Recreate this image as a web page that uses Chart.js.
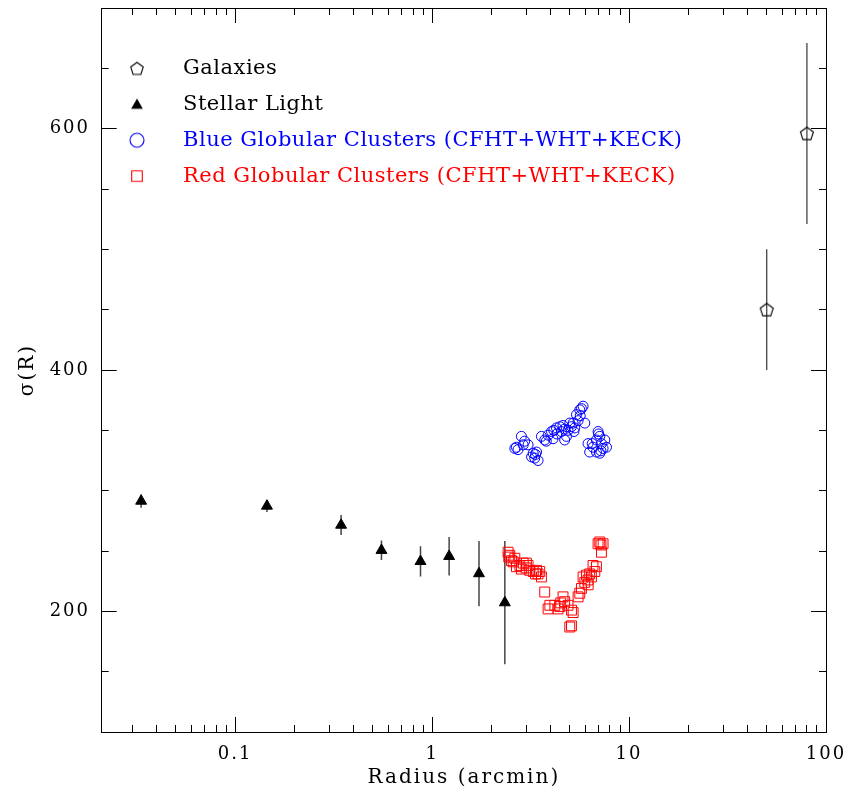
<!DOCTYPE html>
<html><head><meta charset="utf-8">
<script src="https://cdn.jsdelivr.net/npm/chart.js@4.4.1/dist/chart.umd.min.js"></script>
<style>html,body{margin:0;padding:0;background:#fff}canvas{display:block}</style>
</head><body>
<canvas id="c" width="849" height="794"></canvas>
<script>
// ---------------- data ----------------
const GAL_R = [50, 80];
const GAL_SIGMA = [450, 596];
const GAL_ERR = [50, 75];

const STELLAR_R = [0.0333, 0.145, 0.345, 0.553, 0.873, 1.22, 1.73, 2.34];
const STELLAR_SIGMA = [291.4, 287.3, 271.5, 250.6, 241.4, 245.6, 231.3, 207.2];
const STELLAR_ERR = [5.5, 5, 8.3, 8, 12.5, 16, 27, 51];

const BLUE_R = [2.68,2.84,2.90,2.73,2.63,3.07,3.26,3.32,3.20,3.45,3.39,3.59,3.73,3.88,4.04,4.11,4.28,4.45,4.54,4.62,4.81,4.90,5.10,5.20,5.30,5.41,5.62,5.51,5.73,5.84,5.96,6.19,6.31,6.56,6.83,6.96,7.10,7.24,7.38,7.53,7.68,6.83,7.10,
                4.30,4.70,5.00,5.25,4.15,3.80,2.95,3.35,5.65,6.50,7.00,7.20,4.71];
const BLUE_SIGMA = [336,345,338,334,335,338,331,327,328,325,332,345,342,346,349,343,352,353,349,354,345,350,353,356,352,363,367,358,368,370,356,339,332,336,342,349,345,339,335,342,336,332,331,
                    347,351,356,349,350,341,341,330,362,339,347,333,342];

const RED_R = [2.43,2.48,2.53,2.63,2.58,2.68,2.79,2.84,2.90,3.01,3.07,3.13,3.26,3.39,3.45,3.52,3.59,3.73,3.88,3.96,4.20,4.36,4.45,4.62,4.71,4.90,5.10,5.20,5.00,5.10,5.51,5.62,5.73,5.84,5.96,6.08,6.19,6.31,6.44,6.56,6.70,6.83,6.96,7.10,7.24,7.38,
               2.45,3.00,3.35,6.20,4.50,7.20];
const RED_SIGMA = [249,246.5,242,244,241,237,238,235,240,240,238,234,233,234,231,233,228.5,216,202,205,205,202,204,212,208,205,201,199,187,188,212,215,219,228.5,224,230,226,231,228.5,238,233,237,256,257.5,249,256,
                   245,236,231,222,207,255];

const SERIES_LABELS = ['Galaxies', 'Stellar Light', 'Blue Globular Clusters (CFHT+WHT+KECK)', 'Red Globular Clusters (CFHT+WHT+KECK)'];
const X_TITLE = 'Radius (arcmin)';
const Y_TITLE = 'σ(R)';

const X_MIN = 0.021, X_MAX = 100;
const Y_MIN = 100, Y_MAX = 700;
const X_MAJOR = [0.1, 1, 10, 100];
const X_MAJOR_LABELS = ['0.1', '1', '10', '100'];
const X_MINOR = [0.03,0.04,0.05,0.06,0.07,0.08,0.09, 0.2,0.3,0.4,0.5,0.6,0.7,0.8,0.9, 2,3,4,5,6,7,8,9, 20,30,40,50,60,70,80,90];
const Y_MAJOR = [200, 400, 600];
const Y_MAJOR_LABELS = ['200', '400', '600'];
const Y_MINOR = [150, 250, 300, 350, 450, 500, 550, 650];

// ---------------- styling helpers ----------------
const FONT = "'DejaVu Serif', 'Liberation Serif', serif";
const BLUE = '#0000ff', RED = '#ff0000', BLACK = '#000000';
const AXIS_LETTER_SPACING = '2px';
const LEGEND_LETTER_SPACING = '0.5px';

function makeIcon(kind, size, color, r, lw) {
  const c = document.createElement('canvas');
  c.width = size; c.height = size;
  const g = c.getContext('2d');
  const m = size / 2;
  g.strokeStyle = color; g.fillStyle = color; g.lineWidth = lw;
  g.beginPath();
  if (kind === 'pentagon') {
    for (let k = 0; k < 5; k++) {
      const a = -Math.PI / 2 + k * 2 * Math.PI / 5;
      const px = m + r * Math.cos(a), py = m + 0.6 + r * Math.sin(a);
      k ? g.lineTo(px, py) : g.moveTo(px, py);
    }
    g.closePath(); g.stroke();
  } else if (kind === 'triangle') {
    for (let k = 0; k < 3; k++) {
      const a = -Math.PI / 2 + k * 2 * Math.PI / 3;
      const px = m + r * Math.cos(a), py = m + 1 + r * Math.sin(a);
      k ? g.lineTo(px, py) : g.moveTo(px, py);
    }
    g.closePath(); g.fill();
  } else if (kind === 'circle') {
    g.arc(m, m, r, 0, 2 * Math.PI); g.stroke();
  } else if (kind === 'square') {
    g.rect(m - r, m - r, 2 * r, 2 * r); g.stroke();
  }
  return c;
}
const PENTAGON = makeIcon('pentagon', 18, BLACK, 6.8, 1.1);
const LEGEND_ICONS = [
  makeIcon('pentagon', 18, BLACK, 6.6, 1.1),
  makeIcon('triangle', 18, BLACK, 6.8, 1),
  makeIcon('circle', 18, BLUE, 7, 1.1),
  makeIcon('square', 18, RED, 5.3, 1.1)
];
const LEGEND_COLORS = [BLACK, BLACK, BLUE, RED];

const pts = (xs, ys) => xs.map((x, i) => ({x, y: ys[i]}));
const errSegments = (xs, ys, es) => {
  const out = [];
  xs.forEach((x, i) => { out.push({x, y: ys[i] - es[i]}, {x, y: ys[i] + es[i]}, {x, y: null}); });
  return out;
};

const setTicks = values => scale => { scale.ticks = values.map(v => ({value: v})); };
const labelFrom = (values, labels) => (val) => { const i = values.findIndex(v => Math.abs(v - val) < 1e-9 * Math.max(1, v)); return i >= 0 ? labels[i] : ''; };

function axis(type, position, min, max, values, tickLen, opts = {}) {
  return Object.assign({
    type, position, min, max,
    afterBuildTicks: setTicks(values),
    grid: { display: true, drawOnChartArea: false, drawTicks: true, tickLength: tickLen, tickColor: BLACK, tickWidth: 1 },
    border: { display: true, color: BLACK, width: 1 },
    ticks: { display: false, autoSkip: false }
  }, opts);
}
const zeroH = s => { s.height = 0; s.paddingLeft = 0; s.paddingRight = 0; };
const zeroW = s => { s.width = 0; s.paddingTop = 0; s.paddingBottom = 0; };

// places the legend inside the plot frame and sets text tracking (glyph spacing)
const legendPlacer = {
  id: 'legendPlacer',
  beforeDraw(chart) {
    chart.ctx.letterSpacing = AXIS_LETTER_SPACING;
    const lg = chart.legend;
    if (!lg) return;
    if (!lg._trackingWrapped) {
      const orig = lg.draw;
      lg.draw = function () {
        const c = this.ctx, prev = c.letterSpacing;
        c.letterSpacing = LEGEND_LETTER_SPACING;
        orig.apply(this, arguments);
        c.letterSpacing = prev;
      };
      lg._trackingWrapped = true;
    }
    const ca = chart.chartArea;
    lg.left = ca.left - 15.1;
    lg.right = lg.left + 700;
    lg.top = ca.top + 35;
    lg.bottom = lg.top + 400;
  },
  afterDraw(chart) { chart.ctx.letterSpacing = '0px'; }
};

new Chart(document.getElementById('c'), {
  type: 'scatter',
  data: {
    datasets: [
      { label: SERIES_LABELS[0], data: pts(GAL_R, GAL_SIGMA), pointStyle: PENTAGON, pointRadius: 7, order: 0 },
      { label: SERIES_LABELS[1], data: pts(STELLAR_R, STELLAR_SIGMA), pointStyle: 'triangle', pointRadius: 6.3,
        backgroundColor: BLACK, borderColor: BLACK, borderWidth: 1, order: 0 },
      { label: SERIES_LABELS[2], data: pts(BLUE_R, BLUE_SIGMA), pointStyle: 'circle', pointRadius: 5,
        backgroundColor: 'rgba(0,0,0,0)', borderColor: BLUE, borderWidth: 1, order: 0 },
      { label: SERIES_LABELS[3], data: pts(RED_R, RED_SIGMA), pointStyle: 'rect', pointRadius: 7,
        backgroundColor: 'rgba(0,0,0,0)', borderColor: RED, borderWidth: 1, order: 0 },
      { label: '', data: errSegments(GAL_R, GAL_SIGMA, GAL_ERR), showLine: true, spanGaps: false, pointRadius: 0,
        borderColor: '#444444', borderWidth: 1.3, order: 1 },
      { label: '', data: errSegments(STELLAR_R, STELLAR_SIGMA, STELLAR_ERR), showLine: true, spanGaps: false, pointRadius: 0,
        borderColor: '#444444', borderWidth: 1.5, order: 1 }
    ]
  },
  options: {
    responsive: false,
    animation: false,
    events: [],
    layout: { padding: { left: 0, top: 8, right: 23, bottom: 0 } },
    scales: {
      x: axis('logarithmic', 'bottom', X_MIN, X_MAX, X_MAJOR, -15, {
        weight: 1,
        ticks: { display: true, autoSkip: false, maxRotation: 0, padding: 26.5, color: BLACK,
                 font: { family: FONT, size: 18 }, callback: labelFrom(X_MAJOR, X_MAJOR_LABELS) },
        title: { display: true, text: X_TITLE, color: BLACK, font: { family: FONT, size: 20 }, padding: { top: 0, bottom: 4 } },
        afterFit: s => { s.height = 62; s.paddingLeft = 0; s.paddingRight = 0; }
      }),
      xm: axis('logarithmic', 'bottom', X_MIN, X_MAX, X_MINOR, -7, { weight: 0, afterFit: zeroH }),
      xt: axis('logarithmic', 'top', X_MIN, X_MAX, X_MAJOR, -15, { afterFit: zeroH }),
      xtm: axis('logarithmic', 'top', X_MIN, X_MAX, X_MINOR, -7, { afterFit: zeroH }),
      y: axis('linear', 'left', Y_MIN, Y_MAX, Y_MAJOR, -15, {
        weight: 1,
        ticks: { display: true, autoSkip: false, padding: 26.7, color: BLACK,
                 font: { family: FONT, size: 18 }, callback: labelFrom(Y_MAJOR, Y_MAJOR_LABELS) },
        title: { display: true, text: Y_TITLE, color: BLACK, font: { family: FONT, size: 20 }, padding: { top: 16, bottom: 0 } },
        afterFit: s => { s.width = 101.7; s.paddingTop = 0; s.paddingBottom = 0; }
      }),
      ym: axis('linear', 'left', Y_MIN, Y_MAX, Y_MINOR, -7, { weight: 0, afterFit: zeroW }),
      yr: axis('linear', 'right', Y_MIN, Y_MAX, Y_MAJOR, -15, { afterFit: zeroW }),
      yrm: axis('linear', 'right', Y_MIN, Y_MAX, Y_MINOR, -7, { afterFit: zeroW })
    },
    plugins: {
      tooltip: { enabled: false },
      legend: {
        display: true,
        position: 'chartArea',
        align: 'start',
        labels: {
          usePointStyle: true,
          pointStyleWidth: 71,
          boxHeight: 12,
          padding: 14.9,
          font: { family: FONT, size: 21 },
          color: BLACK,
          filter: item => item.text !== '',
          generateLabels: chart => Chart.defaults.plugins.legend.labels.generateLabels(chart).map(it => {
            const i = it.datasetIndex;
            if (i < LEGEND_ICONS.length) { it.pointStyle = LEGEND_ICONS[i]; it.fontColor = LEGEND_COLORS[i]; }
            return it;
          })
        }
      }
    }
  },
  plugins: [legendPlacer]
});
</script>
</body></html>
